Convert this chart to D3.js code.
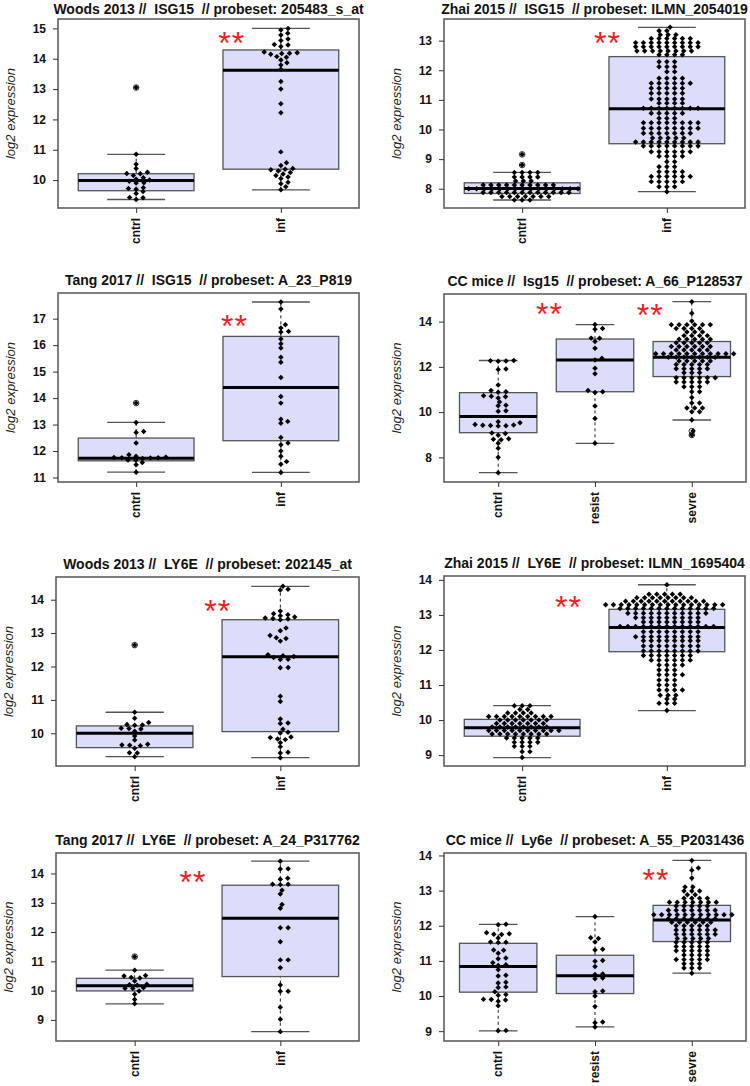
<!DOCTYPE html>
<html>
<head>
<meta charset="utf-8">
<script src="https://cdnjs.cloudflare.com/ajax/libs/d3/7.8.5/d3.min.js"></script>
<style>
  body { margin: 0; background: #fff; }
  text { font-family: "Liberation Sans", Arial, sans-serif; }
</style>
</head>
<body>
<svg id="fig" width="750" height="1086"></svg>
<script>
// ---- data ----
const titles = [
  "Woods 2013 //  ISG15  // probeset: 205483_s_at",
  "Zhai 2015 //  ISG15  // probeset: ILMN_2054019",
  "Tang 2017 //  ISG15  // probeset: A_23_P819",
  "CC mice //  Isg15  // probeset: A_66_P128537",
  "Woods 2013 //  LY6E  // probeset: 202145_at",
  "Zhai 2015 //  LY6E  // probeset: ILMN_1695404",
  "Tang 2017 //  LY6E  // probeset: A_24_P317762",
  "CC mice //  Ly6e  // probeset: A_55_P2031436"
];
const twoGroups = ["cntrl", "inf"];
const threeGroups = ["cntrl", "resist", "sevre"];

const yLimits = [[9.08, 15.31], [7.35, 13.73], [10.83, 17.97], [6.91, 15.22],
                 [9.02, 14.68], [8.69, 14.11], [8.28, 14.70], [8.72, 14.07]];
const yTicks = [[10, 11, 12, 13, 14, 15], [8, 9, 10, 11, 12, 13], [11, 12, 13, 14, 15, 16, 17], [8, 10, 12, 14],
                [10, 11, 12, 13, 14], [9, 10, 11, 12, 13, 14], [9, 10, 11, 12, 13, 14], [9, 10, 11, 12, 13, 14]];

// box stats per group: [lower whisker, q1, median, q3, upper whisker]
const woodsIsgBox = [[9.36, 9.65, 9.99, 10.21, 10.85], [9.68, 10.36, 13.62, 14.29, 15.0]];
const zhaiIsgBox = [[7.62, 7.84, 8.01, 8.2, 8.55], [7.9, 9.52, 10.7, 12.46, 13.45]];
const tangIsgBox = [[11.2, 11.63, 11.73, 12.49, 13.08], [11.19, 12.39, 14.4, 16.33, 17.63]];
const ccIsgBox = [[7.32, 9.09, 9.8, 10.86, 12.28], [8.62, 10.9, 12.3, 13.23, 13.87], [9.65, 11.57, 12.42, 13.12, 14.88]];
const woodsLyBox = [[9.3, 9.57, 10.0, 10.22, 10.63], [9.27, 10.05, 12.29, 13.4, 14.4]];
const zhaiLyBox = [[8.93, 9.54, 9.78, 10.02, 10.41], [10.27, 11.95, 12.64, 13.16, 13.86]];
const tangLyBox = [[9.55, 9.99, 10.17, 10.42, 10.7], [8.6, 10.48, 12.47, 13.6, 14.42]];
const ccLyBox = [[9.01, 10.11, 10.84, 11.5, 12.04], [9.12, 10.07, 10.58, 11.16, 12.26], [10.65, 11.55, 12.16, 12.58, 13.86]];

// individual samples
const woodsIsgCntrl = [13.05, 10.85, 10.52, 10.38, 10.26, 10.22, 10.21, 10.15, 10.08, 10.03, 10.0,
  9.96, 9.91, 9.9, 9.75, 9.72, 9.7, 9.62, 9.56, 9.43, 9.42, 9.36];
const woodsIsgInf = [15.0, 14.95, 14.84, 14.78, 14.65, 14.6, 14.47, 14.45, 14.4, 14.22, 14.2, 14.18,
  14.17, 14.15, 14.07, 14.05, 13.96, 13.87, 13.79, 13.65, 13.25, 13.0, 12.52, 12.22, 10.93, 10.57,
  10.48, 10.38, 10.36, 10.34, 10.3, 10.25, 10.2, 10.15, 10.1, 10.05, 9.93, 9.88, 9.78, 9.68];

const zhaiIsgCntrl = [9.16, 8.8, 8.55, 8.55, 8.55, 8.55, 8.4, 8.4, 8.4, 8.4, 8.26, 8.26, 8.26,
  8.13, 8.13, 8.13, 8.13, 8.13, 8.13, 8.13, 8.13, 8.13, 8.13,
  8.0, 8.0, 8.0, 8.0, 8.0, 8.0, 8.0, 8.0, 8.0, 8.0, 8.0, 8.0, 8.0, 8.0, 8.0,
  7.87, 7.87, 7.87, 7.87, 7.87, 7.87, 7.87, 7.87, 7.87, 7.87, 7.87, 7.87,
  7.74, 7.74, 7.74, 7.74, 7.74, 7.74, 7.74,
  7.62, 7.62, 7.62];
const zhaiIsgInf = [13.45, 13.33, 13.33, 13.2, 13.2, 13.2, 13.07, 13.07, 13.07, 13.07, 13.07, 13.07,
  12.93, 12.93, 12.93, 12.93, 12.93, 12.93, 12.93, 12.93, 12.93,
  12.79, 12.79, 12.79, 12.79, 12.79, 12.79, 12.79, 12.79, 12.79,
  12.65, 12.65, 12.65, 12.65, 12.65, 12.65, 12.65, 12.65,
  12.52, 12.52, 12.52, 12.52,
  12.29, 12.29, 12.29, 12.12, 12.12, 12.12, 11.95, 11.95,
  11.73, 11.73, 11.73, 11.73, 11.56, 11.56, 11.56, 11.56, 11.56, 11.56,
  11.39, 11.39, 11.39, 11.39, 11.39, 11.22, 11.22, 11.22, 11.22, 11.22,
  11.03, 11.03, 11.03, 11.03, 11.03, 10.89, 10.89, 10.89, 10.89,
  10.72, 10.72, 10.72, 10.72, 10.72, 10.72, 10.72, 10.72,
  10.55, 10.55, 10.55, 10.55, 10.55, 10.38, 10.38, 10.38,
  10.23, 10.23, 10.23, 10.23, 10.23, 10.23, 10.23, 10.23,
  10.04, 10.04, 10.04, 10.04, 10.04, 10.04, 10.04, 10.04,
  9.87, 9.87, 9.87, 9.87, 9.87, 9.87, 9.87,
  9.71, 9.71, 9.71, 9.71, 9.71,
  9.58, 9.58, 9.58, 9.58, 9.58, 9.58, 9.58, 9.58, 9.58,
  9.44, 9.44, 9.44, 9.44, 9.44, 9.44, 9.44, 9.44,
  9.25, 9.25, 9.25, 9.25, 9.25, 9.25, 9.1, 9.1, 9.1, 9.1,
  8.91, 8.91, 8.74, 8.74, 8.74, 8.57, 8.57, 8.57, 8.57,
  8.41, 8.41, 8.41, 8.41, 8.41, 8.41, 8.24, 8.24, 8.24, 8.24, 8.24,
  8.07, 8.07, 8.07, 7.9];

const tangIsgCntrl = [13.81, 13.08, 12.74, 12.7, 12.3, 11.86, 11.8, 11.77, 11.76, 11.75, 11.75,
  11.74, 11.72, 11.66, 11.65, 11.57, 11.48, 11.2];
const tangIsgInf = [17.63, 17.37, 16.77, 16.65, 16.52, 16.5, 16.23, 16.05, 15.89, 15.54, 15.35, 14.78,
  14.06, 13.81, 13.2, 13.12, 13.05, 12.51, 12.3, 12.24, 12.0, 11.8, 11.6, 11.5, 11.19];

const ccIsgCntrl = [12.28, 12.27, 12.26, 12.25, 11.9, 11.88, 11.2, 10.95, 10.9, 10.88, 10.72, 10.7,
  10.68, 10.62, 10.45, 10.3, 10.28, 10.06, 10.04, 9.57, 9.53, 9.45, 9.43, 9.42, 9.41, 9.4, 9.38,
  9.08, 9.05, 8.98, 8.82, 8.8, 8.78, 8.62, 8.4, 8.0, 7.32];
const ccIsgResist = [13.87, 13.7, 13.66, 13.27, 13.26, 13.12, 12.82, 12.38, 12.3, 11.94, 11.69, 10.95,
  10.9, 10.87, 10.27, 9.72, 8.62];
const ccIsgSevre = [14.88, 14.37, 14.03,
  13.86, 13.86, 13.86, 13.86, 13.86, 13.86, 13.7, 13.7, 13.7, 13.7, 13.54, 13.54, 13.54,
  13.38, 13.38, 13.38, 13.38, 13.22, 13.22, 13.22, 13.22, 13.22, 13.06, 13.06, 13.06, 13.06, 13.06,
  12.9, 12.9, 12.9, 12.9, 12.9, 12.9, 12.74, 12.74, 12.74, 12.74, 12.74,
  12.58, 12.58, 12.58, 12.58, 12.58, 12.58, 12.58, 12.58, 12.58, 12.58, 12.58,
  12.42, 12.42, 12.42, 12.42, 12.42, 12.42, 12.42,
  12.26, 12.26, 12.26, 12.26, 12.26, 12.1, 12.1, 12.1, 12.1, 12.1,
  11.92, 11.92, 11.92, 11.92, 11.92, 11.74, 11.74, 11.74,
  11.52, 11.52, 11.52, 11.52, 11.52, 11.52, 11.33, 11.33, 11.33, 11.33, 11.33,
  11.12, 11.12, 11.12, 10.9, 10.9, 10.65, 10.4, 10.4, 10.18, 10.18, 10.18, 10.02, 10.02,
  9.65, 9.16, 8.99];

const woodsLyCntrl = [12.64, 10.63, 10.45, 10.32, 10.26, 10.25, 10.24, 10.15, 10.14, 10.13, 10.06,
  9.92, 9.8, 9.67, 9.65, 9.64, 9.63, 9.55, 9.42, 9.41, 9.3];
const woodsLyInf = [14.4, 14.31, 14.29, 13.66, 13.58, 13.55, 13.52, 13.48, 13.45, 13.44, 13.42, 13.4,
  13.15, 13.07, 12.93, 12.86, 12.84, 12.76, 12.35, 12.32, 12.3, 12.27, 12.22, 12.21, 11.97, 11.96,
  11.11, 10.95, 10.43, 10.31, 10.29, 10.12, 10.03, 10.01, 9.89, 9.87, 9.83, 9.81, 9.72, 9.6, 9.43,
  9.41, 9.27];

const zhaiLyCntrl = [10.41, 10.41, 10.41, 10.3, 10.3, 10.2, 10.2, 10.2, 10.2,
  10.1, 10.1, 10.1, 10.1, 10.1, 10.1, 10.1, 10.1, 10.1,
  10.0, 10.0, 10.0, 10.0, 10.0, 10.0, 10.0,
  9.9, 9.9, 9.9, 9.9, 9.9, 9.9, 9.9,
  9.8, 9.8, 9.8, 9.8, 9.8, 9.8, 9.8, 9.8,
  9.7, 9.7, 9.7, 9.7, 9.7, 9.7, 9.7, 9.7, 9.7, 9.7,
  9.6, 9.6, 9.6, 9.6, 9.6, 9.6, 9.6, 9.6,
  9.49, 9.49, 9.49, 9.49, 9.49, 9.37, 9.37, 9.37, 9.37,
  9.25, 9.25, 9.25, 9.1, 9.1, 8.93];
const zhaiLyInf = [13.86, 13.59, 13.59, 13.59, 13.59, 13.59,
  13.49, 13.49, 13.49, 13.49, 13.49, 13.49, 13.49, 13.49,
  13.39, 13.39, 13.39, 13.39, 13.39, 13.39, 13.39, 13.39, 13.39, 13.39, 13.39,
  13.29, 13.29, 13.29, 13.29, 13.29, 13.29, 13.29, 13.29, 13.29, 13.29, 13.29, 13.29, 13.29, 13.29,
  13.29, 13.29,
  13.18, 13.18, 13.18, 13.18, 13.18, 13.18, 13.18, 13.18, 13.18, 13.18, 13.18, 13.18, 13.18,
  13.05, 13.05, 13.05, 13.05, 13.05, 13.05, 13.05, 13.05, 13.05, 13.05, 13.05,
  12.92, 12.92, 12.92, 12.92, 12.92, 12.92, 12.92, 12.92, 12.92,
  12.8, 12.8, 12.8, 12.8, 12.8, 12.8, 12.8, 12.8,
  12.67, 12.67, 12.67, 12.67, 12.67, 12.67, 12.67, 12.67, 12.67, 12.67, 12.67, 12.67, 12.67,
  12.52, 12.52, 12.52, 12.52, 12.52, 12.52, 12.52, 12.52,
  12.38, 12.38, 12.38, 12.38, 12.38, 12.38, 12.38, 12.38, 12.38,
  12.26, 12.26, 12.26, 12.26, 12.26, 12.26, 12.26, 12.26,
  12.11, 12.11, 12.11, 12.11, 12.11, 12.11, 12.11, 12.11,
  11.97, 11.97, 11.97, 11.97, 11.97, 11.97, 11.97, 11.97,
  11.84, 11.84, 11.84, 11.84, 11.84, 11.84, 11.84,
  11.71, 11.71, 11.71, 11.71, 11.71, 11.71, 11.57, 11.57, 11.57, 11.57,
  11.43, 11.43, 11.43, 11.29, 11.29, 11.29, 11.29, 11.14, 11.14, 11.14,
  11.0, 11.0, 11.0, 10.86, 10.86, 10.86, 10.86, 10.71, 10.71, 10.71,
  10.6, 10.6, 10.48, 10.48, 10.48, 10.27];

const tangLyCntrl = [11.16, 10.7, 10.52, 10.5, 10.45, 10.43, 10.33, 10.22, 10.2, 10.18, 10.1, 10.08,
  10.07, 9.99, 9.88, 9.7, 9.55];
const tangLyInf = [14.42, 14.16, 14.15, 13.84, 13.8, 13.63, 13.63, 13.62, 13.43, 13.3, 12.94, 12.81,
  12.15, 12.15, 11.67, 11.05, 11.05, 10.78, 10.19, 9.98, 9.98, 9.43, 9.02, 8.6];

const ccLyCntrl = [12.04, 12.03, 11.8, 11.77, 11.76, 11.75, 11.65, 11.54, 11.53, 11.52, 11.31, 11.3,
  11.22, 11.08, 11.06, 10.95, 10.89, 10.87, 10.75, 10.59, 10.57, 10.39, 10.37, 10.26, 10.24, 10.12,
  10.04, 10.02, 9.91, 9.9, 9.89, 9.85, 9.72, 9.02, 9.01];
const ccLyResist = [12.26, 11.66, 11.64, 11.54, 11.33, 11.31, 11.01, 10.99, 10.84, 10.63, 10.61, 10.51,
  10.49, 10.14, 10.12, 10.0, 9.7, 9.26, 9.24, 9.12];
const ccLySevre = [13.86, 13.64, 13.58, 13.36, 13.1, 13.1, 12.99, 12.99, 12.99, 12.88, 12.88,
  12.78, 12.78, 12.78, 12.78, 12.67, 12.67, 12.67, 12.67, 12.67, 12.67, 12.67,
  12.56, 12.56, 12.56, 12.56, 12.56, 12.44, 12.44, 12.44, 12.44, 12.44, 12.44, 12.44,
  12.31, 12.31, 12.31, 12.31, 12.31, 12.31, 12.31, 12.31, 12.31, 12.31, 12.31,
  12.2, 12.2, 12.2, 12.2, 12.2, 12.2, 12.2, 12.1, 12.1, 12.1, 12.1, 12.1, 12.1,
  12.0, 12.0, 12.0, 12.0, 12.0, 11.88, 11.88, 11.88, 11.88, 11.88, 11.88,
  11.76, 11.76, 11.76, 11.76, 11.76, 11.76, 11.64, 11.64, 11.64, 11.64, 11.64,
  11.53, 11.53, 11.53, 11.53, 11.53, 11.41, 11.41, 11.41, 11.41, 11.41,
  11.29, 11.29, 11.29, 11.29, 11.29, 11.17, 11.17, 11.17, 11.17,
  11.04, 11.04, 11.04, 11.04, 11.04, 10.92, 10.92, 10.92, 10.8, 10.8, 10.8, 10.65];

// "**" marks: [x in group units (0 = first group), y value]
const starAt = [[[0.66, 14.71]], [[0.59, 13.11]], [[0.68, 16.96]], [[0.53, 14.59], [1.57, 14.55]],
                [[0.57, 13.83]], [[0.32, 13.40]], [[0.40, 13.91]], [[1.63, 13.46]]];

// ---- layout ----
const layout = [
  { left: 58, top: 19, w: 301, h: 189 }, { left: 444, top: 19, w: 301, h: 189 },
  { left: 58, top: 293, w: 301, h: 189 }, { left: 444, top: 294, w: 302, h: 188 },
  { left: 56, top: 577, w: 303, h: 189 }, { left: 444, top: 576, w: 301, h: 190 },
  { left: 56, top: 853, w: 303, h: 188 }, { left: 444, top: 853, w: 302, h: 188 }
];

const panels = [
  { groups: twoGroups, values: [woodsIsgCntrl, woodsIsgInf], boxes: woodsIsgBox },
  { groups: twoGroups, values: [zhaiIsgCntrl, zhaiIsgInf], boxes: zhaiIsgBox },
  { groups: twoGroups, values: [tangIsgCntrl, tangIsgInf], boxes: tangIsgBox },
  { groups: threeGroups, values: [ccIsgCntrl, ccIsgResist, ccIsgSevre], boxes: ccIsgBox },
  { groups: twoGroups, values: [woodsLyCntrl, woodsLyInf], boxes: woodsLyBox },
  { groups: twoGroups, values: [zhaiLyCntrl, zhaiLyInf], boxes: zhaiLyBox },
  { groups: twoGroups, values: [tangLyCntrl, tangLyInf], boxes: tangLyBox },
  { groups: threeGroups, values: [ccLyCntrl, ccLyResist, ccLySevre], boxes: ccLyBox }
];

const boxFill = "#dcdcfb", boxLine = "#555", frame = "#606060";
const sx = 7.8, sy = 3.9; // beeswarm collision size in px (horizontal, vertical)

// beeswarm "swarm" placement, lowest value first
function swarm(ys) {
  const order = ys.map((y, i) => i).sort((a, b) => ys[b] - ys[a]);
  const placed = [], xs = new Array(ys.length);
  order.forEach(i => {
    const y = ys[i];
    const near = placed.filter(p => Math.abs(p.y - y) < sy);
    const cands = [0];
    near.forEach(p => {
      const t = (p.y - y) / sy;
      const dx = sx * Math.sqrt(1 - t * t);
      cands.push(p.x + dx, p.x - dx);
    });
    cands.sort((a, b) => Math.abs(a) - Math.abs(b));
    let best = 0;
    for (const c of cands) {
      if (near.every(p => ((p.x - c) / sx) ** 2 + ((p.y - y) / sy) ** 2 >= 1 - 1e-6)) { best = c; break; }
    }
    xs[i] = best;
    placed.push({ x: best, y: y });
  });
  return xs;
}

const svg = d3.select("#fig");
const diamond = d3.symbol().type(d3.symbolSquare).size(15);

panels.forEach((p, k) => {
  const L = layout[k];
  const n = p.groups.length;
  const g = svg.append("g").attr("transform", "translate(" + L.left + "," + L.top + ")");

  // R style: xlim = c(0.5, n + 0.5) widened by 4%
  const pad = n * 0.04 / 2;
  const x = d3.scaleLinear().domain([-0.5 - pad, n - 0.5 + pad]).range([0, L.w]);
  const y = d3.scaleLinear().domain(yLimits[k]).range([L.h, 0]);
  const halfBox = x(0.4) - x(0);

  p.groups.forEach((name, i) => {
    const b = p.boxes[i];
    const cx = x(i);
    const bg = g.append("g");
    bg.append("line").attr("x1", cx).attr("x2", cx).attr("y1", y(b[0])).attr("y2", y(b[1]))
      .attr("stroke", "#222").attr("stroke-dasharray", "3,3");
    bg.append("line").attr("x1", cx).attr("x2", cx).attr("y1", y(b[3])).attr("y2", y(b[4]))
      .attr("stroke", "#222").attr("stroke-dasharray", "3,3");
    [b[0], b[4]].forEach(v => {
      bg.append("line").attr("x1", cx - halfBox / 2).attr("x2", cx + halfBox / 2)
        .attr("y1", y(v)).attr("y2", y(v)).attr("stroke", boxLine).attr("stroke-width", 1.3);
    });
    bg.append("rect").attr("x", cx - halfBox).attr("width", halfBox * 2)
      .attr("y", y(b[3])).attr("height", y(b[1]) - y(b[3]))
      .attr("fill", boxFill).attr("stroke", boxLine).attr("stroke-width", 1.3);
    bg.append("line").attr("x1", cx - halfBox).attr("x2", cx + halfBox)
      .attr("y1", y(b[2])).attr("y2", y(b[2])).attr("stroke", "#000").attr("stroke-width", 3);

    // outliers as open circles
    const vals = p.values[i];
    bg.selectAll("circle.out").data(vals.filter(v => v < b[0] - 1e-9 || v > b[4] + 1e-9)).join("circle")
      .attr("cx", cx).attr("cy", v => y(v)).attr("r", 2.8)
      .attr("fill", "none").attr("stroke", "#333").attr("stroke-width", 1);

    // swarm points
    const ys = vals.map(v => y(v));
    const xs = swarm(ys);
    bg.selectAll("path.pt").data(vals).join("path")
      .attr("d", diamond)
      .attr("transform", (v, j) => "translate(" + (cx + xs[j]) + "," + ys[j] + ") rotate(45)")
      .attr("fill", "#000");
  });

  // frame
  g.append("rect").attr("width", L.w).attr("height", L.h)
    .attr("fill", "none").attr("stroke", frame).attr("stroke-width", 1.6);

  // y axis
  const ya = g.append("g").call(d3.axisLeft(y).tickValues(yTicks[k]).tickSize(5).tickPadding(7).tickFormat(d3.format("d")));
  ya.select(".domain").remove();
  ya.selectAll(".tick line").attr("stroke", "#333");
  ya.selectAll(".tick text").attr("font-size", 12).attr("font-weight", "bold")
    .attr("font-family", "'Liberation Sans', Arial, sans-serif").attr("fill", "#111");

  // x axis
  const xa = g.append("g").attr("transform", "translate(0," + L.h + ")")
    .call(d3.axisBottom(x).tickValues(d3.range(n)).tickSize(5).tickFormat(""));
  xa.select(".domain").remove();
  xa.selectAll(".tick line").attr("stroke", "#333");
  p.groups.forEach((name, i) => {
    g.append("text").attr("transform", "translate(" + x(i) + "," + (L.h + 10) + ") rotate(-90)")
      .attr("text-anchor", "end").attr("dy", "0.35em")
      .attr("font-size", 12).attr("font-weight", "bold").attr("fill", "#111").text(name);
  });

  // y label
  g.append("text").attr("transform", "translate(" + (-43) + "," + (L.h / 2) + ") rotate(-90)")
    .attr("text-anchor", "middle").attr("font-size", 13).attr("font-style", "italic")
    .attr("fill", "#222").text("log2 expression");

  // title (kept inside the page for the top row)
  const titleY = Math.max(-8, 14 - L.top);
  g.append("text").attr("x", L.w / 2).attr("y", titleY).attr("text-anchor", "middle")
    .attr("font-size", 14).attr("font-weight", "bold").attr("fill", "#111")
    .style("white-space", "pre").text(titles[k]);

  // significance stars
  starAt[k].forEach(s => {
    g.append("text").attr("x", x(s[0])).attr("y", y(s[1]) + 17).attr("text-anchor", "middle")
      .attr("font-size", 32).attr("fill", "#ee2222").attr("letter-spacing", 1).text("**");
  });
});
</script>
</body>
</html>
